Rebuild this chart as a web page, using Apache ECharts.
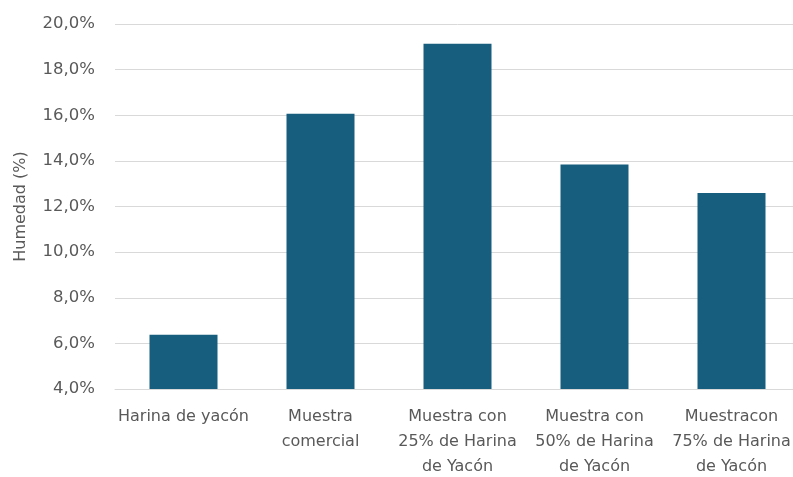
<!DOCTYPE html>
<html>
<head>
<meta charset="utf-8">
<style>
  html, body { margin: 0; padding: 0; background: #ffffff; overflow: hidden; }
  #chart { width: 800px; height: 477px; }
</style>
<script src="https://cdn.jsdelivr.net/npm/echarts@6/dist/echarts.min.js"></script>
</head>
<body>
<div id="chart"></div>
<script>
// Moisture content per sample (%)
const categories = [
  "Harina de yacón",
  "Muestra\ncomercial",
  "Muestra con\n25% de Harina\nde Yacón",
  "Muestra con\n50% de Harina\nde Yacón",
  "Muestracon\n75% de Harina\nde Yacón"
];
const humedad = [6.38, 16.07, 19.13, 13.84, 12.59];

const yMin = 4;
const yMax = 20;
const yStep = 2;

const fmtPct = v => v.toFixed(1).replace('.', ',') + '%';

const chart = echarts.init(document.getElementById('chart'));
chart.setOption({
  animation: false,
  textStyle: { fontFamily: 'DejaVu Sans' },
  grid: {
    left: 115, top: 24, width: 685, height: 365,
    outerBoundsMode: 'none'
  },
  xAxis: {
    type: 'category',
    data: categories,
    axisLine: { lineStyle: { color: '#d9d9d9', width: 1 } },
    axisTick: { show: false },
    axisLabel: {
      color: '#595959',
      fontSize: 16,
      lineHeight: 25,
      margin: 15,
      interval: 0
    }
  },
  yAxis: {
    type: 'value',
    min: yMin,
    max: yMax,
    interval: yStep,
    name: 'Humedad (%)',
    nameLocation: 'middle',
    nameGap: 86,
    nameTextStyle: { color: '#595959', fontSize: 16 },
    axisLine: { show: false },
    axisTick: { show: false },
    splitLine: { lineStyle: { color: '#d9d9d9', width: 1 } },
    axisLabel: {
      color: '#595959',
      fontSize: 16.5,
      margin: 20,
      formatter: fmtPct
    }
  },
  series: [{
    type: 'bar',
    data: humedad,
    barWidth: 68,
    itemStyle: { color: '#175e7e' }
  }]
});
</script>
</body>
</html>
